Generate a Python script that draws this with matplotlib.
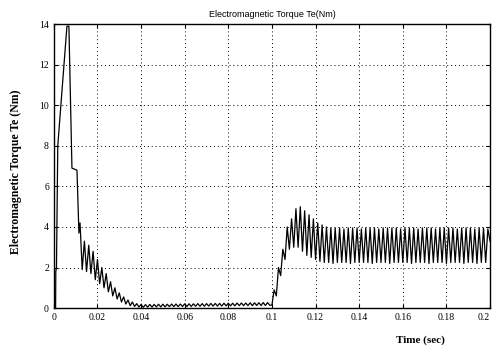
#!/usr/bin/env python3

import numpy as np
import matplotlib
matplotlib.use( 'Agg' )
import matplotlib.pyplot as plt

# start-up transient (time in s, torque in Nm)
t_startup  = [ 0.0, 0.0008, 0.0009, 0.0012, 0.0014, 0.0016, 0.0018, 0.0060, 0.0069, 0.0083, 0.0106, 0.0115, 0.0120 ]
te_startup = [ 0.0, 0.0   , 1.8   , 2.0   , 4.2   , 6.0   , 8.0   , 13.9  , 13.9  , 6.9   , 6.8   , 3.7   , 4.2    ]

# decaying ripple, one value per ms from 0.013 s to 0.040 s
te_decay = [ 1.9, 3.3, 1.8, 3.1, 1.7, 2.8, 1.4, 2.4, 1.2, 2.0, 1.0, 1.7, 0.8, 1.3,
             0.6, 1.0, 0.45, 0.75, 0.3, 0.55, 0.2, 0.4, 0.12, 0.3, 0.08, 0.22, 0.05, 0.18 ]

# small ripple at no load, one value per ms from 0.041 s to 0.100 s
te_noload = [ 0.04, 0.17, 0.05, 0.18, 0.05, 0.18, 0.06, 0.19, 0.06, 0.19,
              0.06, 0.19, 0.07, 0.2 , 0.07, 0.2 , 0.07, 0.2 , 0.08, 0.21,
              0.08, 0.21, 0.08, 0.21, 0.09, 0.22, 0.09, 0.22, 0.09, 0.22,
              0.1 , 0.23, 0.1 , 0.23, 0.1 , 0.23, 0.1 , 0.24, 0.11, 0.24,
              0.11, 0.24, 0.11, 0.25, 0.12, 0.25, 0.12, 0.25, 0.12, 0.26,
              0.12, 0.26, 0.13, 0.26, 0.13, 0.27, 0.13, 0.27, 0.14, 0.15 ]

# load applied at 0.1 s, one value per ms from 0.101 s to 0.200 s
te_load = [ 0.9 , 0.6 , 2.0 , 1.6 , 2.9 , 2.4 , 4.0 , 2.9 , 4.4 , 3.0 ,
            4.9 , 3.0 , 5.0 , 2.8 , 4.8 , 2.6 , 4.6 , 2.5 , 4.4 , 2.4 ,
            4.2 , 2.3 , 4.1 , 2.25, 4.0 , 2.25, 3.95, 2.2 , 3.95, 2.25,
            3.95, 2.25, 3.9 , 2.25, 3.95, 2.2 , 3.95, 2.25, 3.95, 2.25,
            3.9 , 2.25, 3.95, 2.25, 3.95, 2.2 , 3.95, 2.25, 3.9 , 2.25,
            3.95, 2.25, 3.95, 2.2 , 3.95, 2.25, 3.95, 2.25, 3.9 , 2.25,
            3.95, 2.25, 3.95, 2.2 , 3.95, 2.25, 3.9 , 2.25, 3.95, 2.25,
            3.95, 2.2 , 3.95, 2.25, 3.9 , 2.25, 3.95, 2.25, 3.95, 2.2 ,
            3.95, 2.25, 3.95, 2.25, 3.9 , 2.25, 3.95, 2.2 , 3.95, 2.25,
            3.95, 2.25, 3.9 , 2.2 , 3.95, 2.25, 3.95, 2.25, 3.9 , 3.3  ]

xticks = [ 0, 0.02, 0.04, 0.06, 0.08, 0.1, 0.12, 0.14, 0.16, 0.18, 0.2 ]
xticklabels = [ '0', '0.02', '0.04', '0.06', '0.08', '0.1', '0.12', '0.14', '0.16', '0.18', '0.2' ]
yticks = [ 0, 2, 4, 6, 8, 10, 12, 14 ]

# sample times of the ripple segments (1 ms steps)
t_decay  = 0.013 + 0.001 * np.arange( len( te_decay ) )
t_noload = 0.041 + 0.001 * np.arange( len( te_noload ) )
t_load   = 0.101 + 0.001 * np.arange( len( te_load ) )

t  = np.concatenate( [ t_startup, t_decay, t_noload, t_load ] )
te = np.concatenate( [ te_startup, te_decay, te_noload, te_load ] )

fig = plt.figure( figsize = ( 4.94, 3.45 ), dpi = 100 )
ax = fig.add_axes( [ 0.109, 0.107, 0.883, 0.823 ] )
ax.plot( t, te, color = 'k', linewidth = 0.9 )

ax.set_xlim( 0, 0.2 )
ax.set_ylim( 0, 14 )
ax.set_xticks( xticks )
ax.set_xticklabels( xticklabels )
ax.set_yticks( yticks )
ax.tick_params( direction = 'in', top = True, right = True, length = 3, labelsize = 7, width = 0.8 )
for label in ax.get_xticklabels() + ax.get_yticklabels():
    label.set_family( 'Liberation Serif' )
# the last label would run past the figure edge
ax.get_xticklabels()[-1].set_horizontalalignment( 'right' )
ax.grid( True, color = 'k', linestyle = ( 0, ( 1, 3 ) ), linewidth = 0.7 )
for spine in ax.spines.values():
    spine.set_linewidth( 1.0 )

ax.set_title( 'Electromagnetic Torque Te(Nm)', fontsize = 6.5, family = 'Liberation Sans', pad = 5 )
ax.set_ylabel( 'Electromagnetic Torque Te (Nm)', fontsize = 8.5, family = 'Liberation Serif', fontweight = 'bold' )
ax.yaxis.set_label_coords( -0.072, 0.48 )
ax.set_xlabel( 'Time (sec)', fontsize = 8, family = 'Liberation Serif', fontweight = 'bold' )
ax.xaxis.set_label_coords( 0.84, -0.095 )

fig.savefig( 'out.png', dpi = 100 )
